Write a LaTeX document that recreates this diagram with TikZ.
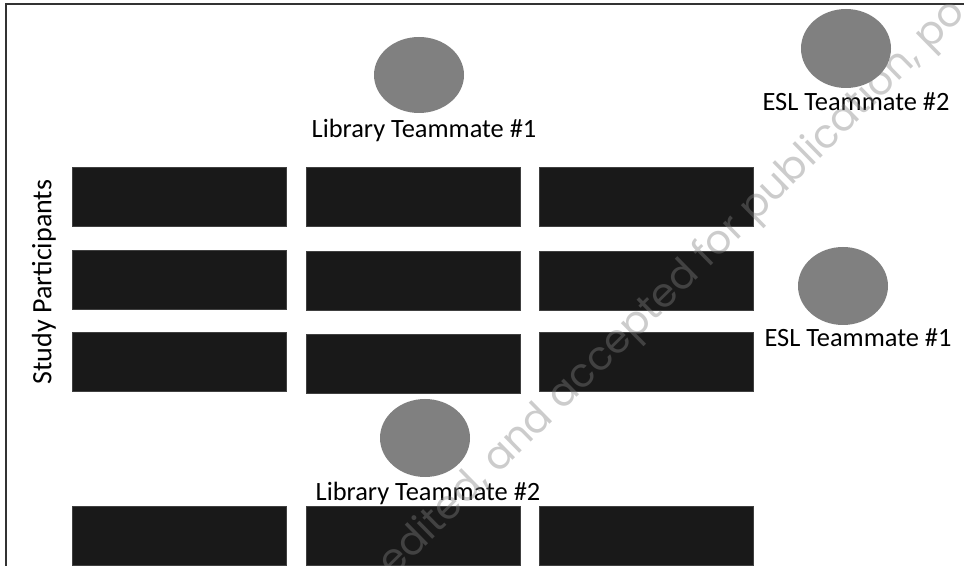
\documentclass[tikz,border=0pt]{standalone}
\usepackage{fontspec}
\setmainfont{Carlito}
\newfontfamily\wmfont{Poppins}
\usepackage{tikz}
\usetikzlibrary{shapes.geometric}

\tikzset{
  desk/.style={fill=black!90,draw=black!75,line width=0.4pt,minimum width=160.5pt,minimum height=44.25pt,inner sep=0pt},
  member/.style={ellipse,fill=black!50,inner sep=0pt,minimum width=67.5pt,minimum height=58.5pt},
  lbl/.style={font=\fontsize{19.8}{21}\selectfont,inner sep=0pt,anchor=base},
}

\begin{document}
\begin{tikzpicture}[x=0.75pt,y=-0.75pt]
  \useasboundingbox (0,0) rectangle (964,566);
  \begin{scope}
    \clip (0,0) rectangle (964,566);
    \draw[line width=1.2pt,black!80] (6,4) rectangle (980,580);
  \end{scope}
  % desks
  \node[desk] (d11) at (179,196.5) {};
  \node[desk] (d12) at (413,196.5) {};
  \node[desk] (d13) at (646.5,196.5) {};
  \node[desk] (d21) at (179,280) {};
  \node[desk] (d22) at (413,281) {};
  \node[desk] (d23) at (646.5,280.5) {};
  \node[desk] (d31) at (179,362) {};
  \node[desk] (d32) at (413,364) {};
  \node[desk] (d33) at (646.5,362) {};
  \node[desk] (d41) at (179,536) {};
  \node[desk] (d42) at (413,536) {};
  \node[desk] (d43) at (646.5,536) {};
  % team members
  \node[member,minimum height=57pt] (lib1) at (419,75) {};
  \node[member,minimum height=59.25pt] (esl2) at (846,48.5) {};
  \node[member] (esl1) at (843,286) {};
  \node[member] (lib2) at (425,438) {};
  \node[lbl] (lib1t) at (424,138) {Library Teammate \#1};
  \node[lbl] (esl2t) at (856,111) {ESL Teammate \#2};
  \node[lbl] (esl1t) at (858,347) {ESL Teammate \#1};
  \node[lbl] (lib2t) at (428,500) {Library Teammate \#2};
  \node[font=\fontsize{21}{22}\selectfont,rotate=90] (study) at (44,282) {Study Participants};
  % watermark
  \begin{scope}
    \clip (7,5) rectangle (964,566);
    \node[font=\wmfont\fontsize{30}{32}\selectfont,text=black!50,text opacity=0.4,rotate=44.5] (wm) at (673,289) {edited, and accepted for publication, po};
  \end{scope}
\end{tikzpicture}
\end{document}
